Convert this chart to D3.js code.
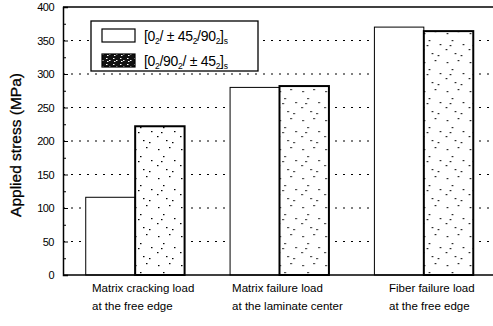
<!DOCTYPE html>
<html>
<head>
<meta charset="utf-8">
<script src="https://cdn.jsdelivr.net/npm/d3@7"></script>
<style>
  body { margin: 0; background: #fff; }
  text { font-family: "Liberation Sans", Arial, sans-serif; fill: #000; }
</style>
</head>
<body>
<div id="chart"></div>
<script>
// Data
const categories = [
  ["Matrix cracking load", "at the free edge"],
  ["Matrix failure load", "at the laminate center"],
  ["Fiber failure load", "at the free edge"]
];
const seriesA = [116, 280, 370];   // [0_2/±45_2/90_2]_s
const seriesB = [222, 282, 364];   // [0_2/90_2/±45_2]_s
const yTicks = [0, 50, 100, 150, 200, 250, 300, 350, 400];

const W = 493, H = 326;
const margin = { top: 7, left: 63, bottom: 51 };
const plotRight = 496; // frame runs off the right edge

const svg = d3.select("#chart").append("svg")
  .attr("width", W).attr("height", H);

const defs = svg.append("defs");
// speckle fill for the second series
const pat = defs.append("pattern").attr("id", "speckle")
  .attr("patternUnits", "userSpaceOnUse").attr("width", 23).attr("height", 29);
pat.append("rect").attr("width", 23).attr("height", 29).attr("fill", "#fff");
[[3, 4], [14, 2], [8, 11], [19, 15], [2, 20], [11, 24], [17, 26], [6, 16]].forEach(p => {
  pat.append("rect").attr("x", p[0]).attr("y", p[1]).attr("width", 1.5).attr("height", 1.2).attr("fill", "#000");
});
const pat2 = defs.append("pattern").attr("id", "speckleDense")
  .attr("patternUnits", "userSpaceOnUse").attr("width", 7).attr("height", 6);
pat2.append("rect").attr("width", 7).attr("height", 6).attr("fill", "#111");
[[1, 1], [4, 3], [2, 4]].forEach(p => {
  pat2.append("rect").attr("x", p[0]).attr("y", p[1]).attr("width", 1.5).attr("height", 1).attr("fill", "#fff");
});

const y = d3.scaleLinear().domain([0, 400]).range([H - margin.bottom, margin.top]);
const x = d3.scaleBand().domain(d3.range(categories.length))
  .range([margin.left, plotRight]).padding(0);
const xs = d3.scaleBand().domain([0, 1]).range([0, x.bandwidth()])
  .paddingInner(0).paddingOuter(0.46);

// dotted grid lines
svg.append("g").selectAll("line")
  .data(yTicks.filter(d => d > 0 && d < 400))
  .enter().append("line")
  .attr("x1", margin.left).attr("x2", plotRight)
  .attr("y1", d => y(d)).attr("y2", d => y(d))
  .attr("stroke", "#000").attr("stroke-width", 1)
  .attr("stroke-dasharray", "2,6");

// bars
const groups = svg.append("g").selectAll("g")
  .data(categories.map((c, i) => i))
  .enter().append("g")
  .attr("transform", i => `translate(${x(i)},0)`);

groups.append("rect")
  .attr("x", xs(0)).attr("width", xs.bandwidth())
  .attr("y", i => y(seriesA[i])).attr("height", i => y(0) - y(seriesA[i]))
  .attr("fill", "#fff").attr("stroke", "#000").attr("stroke-width", 1);

groups.append("rect")
  .attr("x", xs(1)).attr("width", xs.bandwidth())
  .attr("y", i => y(seriesB[i])).attr("height", i => y(0) - y(seriesB[i]))
  .attr("fill", "url(#speckle)").attr("stroke", "#000").attr("stroke-width", 2);

// frame: top line and bottom axis
svg.append("line").attr("x1", margin.left).attr("x2", plotRight)
  .attr("y1", y(400)).attr("y2", y(400)).attr("stroke", "#000").attr("stroke-width", 1.3);
svg.append("line").attr("x1", margin.left).attr("x2", plotRight)
  .attr("y1", y(0)).attr("y2", y(0)).attr("stroke", "#000").attr("stroke-width", 1.5);

// y axis with inward ticks
const yAxis = svg.append("g").attr("transform", `translate(${margin.left},0)`)
  .call(d3.axisLeft(y).tickValues(yTicks).tickSize(-5).tickPadding(9))
  .call(g => g.select(".domain").attr("stroke-width", 1.5));
yAxis.selectAll("text").style("font-size", "11px").style("letter-spacing", "-0.5px");
svg.append("g").attr("transform", `translate(${margin.left},0)`)
  .call(d3.axisLeft(y).tickValues(d3.range(25, 400, 50)).tickSize(-3).tickFormat(""))
  .call(g => g.select(".domain").remove());

// y label
svg.append("text")
  .attr("transform", `translate(21,${(y(0) + y(400)) / 2 + 4}) rotate(-90)`)
  .attr("text-anchor", "middle")
  .style("font-size", "15.5px")
  .style("stroke", "#000").style("stroke-width", 0.3)
  .text("Applied stress (MPa)");

// category labels, two lines each, left aligned block
categories.forEach((lines, i) => {
  const t = svg.append("text").style("font-size", "11.5px");
  lines.forEach((ln, k) => {
    t.append("tspan").attr("x", 0).attr("y", 292 + k * 18).text(ln);
  });
  const w = t.node().getBBox().width;
  const cx = x(i) + x.bandwidth() / 2 + 8;
  t.attr("transform", `translate(${cx - w / 2},0)`);
});

// legend
const leg = svg.append("g").attr("transform", "translate(91,21)");
leg.append("rect").attr("width", 167).attr("height", 50)
  .attr("fill", "#fff").attr("stroke", "#000").attr("stroke-width", 1.3);
const legendItems = [
  { fill: "#fff", parts: [["[0", 0], ["2", 1], ["/ \u00b1 45", 0], ["2", 1], ["/90", 0], ["2", 1], ["]", 0], ["s", 1]] },
  { fill: "url(#speckleDense)", parts: [["[0", 0], ["2", 1], ["/90", 0], ["2", 1], ["/ \u00b1 45", 0], ["2", 1], ["]", 0], ["s", 1]] }
];
legendItems.forEach((it, k) => {
  const yy = 8 + k * 25;
  leg.append("rect").attr("x", 11).attr("y", yy).attr("width", 33).attr("height", 13)
    .attr("fill", it.fill).attr("stroke", "#000").attr("stroke-width", 1.2);
  const t = leg.append("text").attr("x", 53).attr("y", yy + 12)
    .style("font-size", "14px").style("letter-spacing", "-0.3px");
  it.parts.forEach(p => {
    const s = t.append("tspan").text(p[0]);
    if (p[1]) s.style("font-size", "8.5px").attr("dy", 3);
    else s.attr("dy", s.node().previousSibling ? -3 : 0);
  });
});
</script>
</body>
</html>
